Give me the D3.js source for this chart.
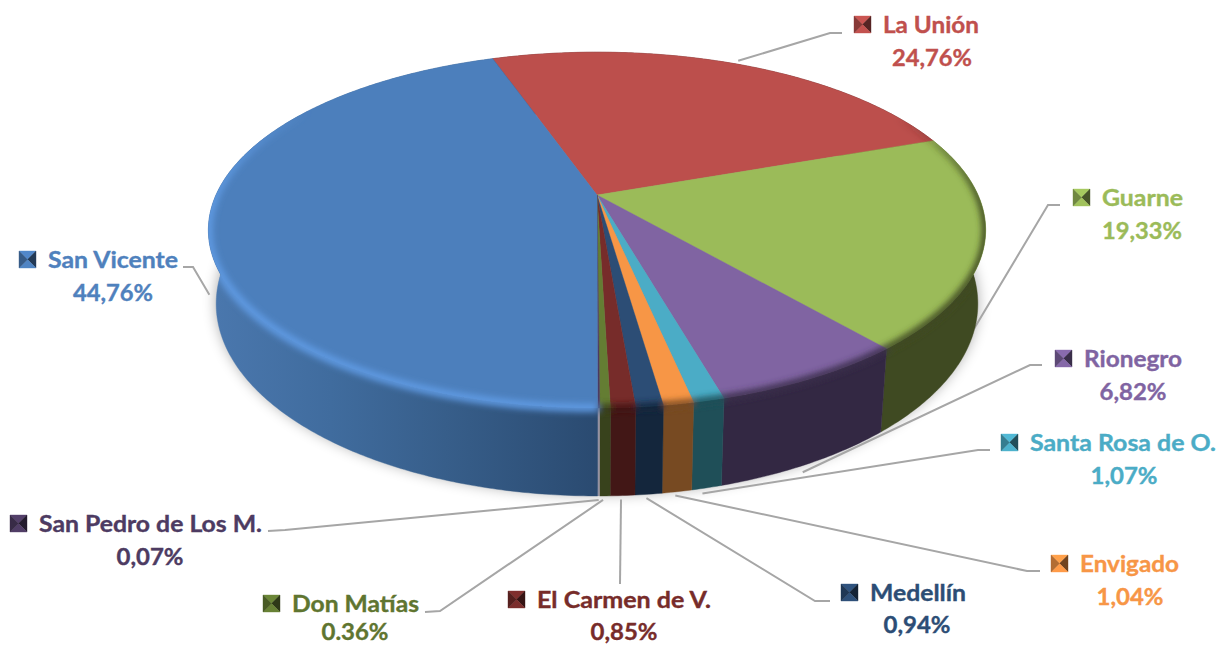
<!DOCTYPE html>
<html><head><meta charset="utf-8">
<script src="https://cdn.jsdelivr.net/npm/d3@7"></script>
<style>html,body{margin:0;padding:0;background:#fff}svg{display:block}text{font-family:Lato,Carlito,sans-serif;font-weight:700;stroke-width:0.35px}</style>
</head><body><div id="chart"></div>
<script>
const categories=["La Unión","Guarne","Rionegro","Santa Rosa de O.","Envigado","Medellín","El Carmen de V.","Don Matías","San Pedro de Los M.","San Vicente"];
const values=[24.76,19.33,6.82,1.07,1.04,0.94,0.85,0.36,0.07,44.76];
const valueLabels=["24,76%","19,33%","6,82%","1,07%","1,04%","0,94%","0,85%","0.36%","0,07%","44,76%"];
const topColors=["#bc4f4c","#9bbb59","#8064a2","#4bacc6","#f79646","#2c4d75","#772c2a","#647d33","#4d3b62","#4c7fbc"];
const textColors=["#c0504d","#9bbb59","#8064a2","#4bacc6","#f79646","#2c4d75","#772c2a","#5f7530","#4d3b62","#4f81bd"];
const sideColors=["#5e2725","#3f4a22","#332843","#1f4f58","#774a22","#14263c","#421716","#38421c","#9a95a5","url(#sv)"];
const rimColors=["#5e2725","#3f4a22","#3a2d4c","#1f4f58","#774a22","#14263c","#421716","#38421c","#4d3b62","#5f9ae2"];
// label layout: name left, name baseline, value centre, value baseline, widths
const nameX=[883,1102,1084,1030,1080,870,537,292,39,48];
const nameY=[33,206,367,451,572,601,608,612,532,268];
const valueX=[932,1142,1133,1124,1130,917,624,355,150,113];
const valueY=[66,239,400,484,605,633,640,640,565,301];
const nameW=[96,81,98,186,99,96,174,127,223,130];
const valueW=[80,80,67,67,67,67,67,67,67,80];
// leader elbows: [start x, start y, elbow x, elbow y] and end nudges
const elbows=[[842,33,830,33],[1060,205,1048,205],[1042,365,1030,365],[990,450,978,450],[1040,571,1027,571],[830,601,815,601],[620,584,620,584],[425,612,440,611],[268,531,285,530],[183,267,193,267]];
const endNudge=[[-1,0],[-7,12],[-9,6],[-6,2],[-3,0],[-3,0],[-2,0],[-2,0],[0,0],[-3,-3]];

const W=1220,H=645;
const svg=d3.select("#chart").append("svg").attr("width",W).attr("height",H);
const defs=svg.append("defs");
const blur=(id,s)=>defs.append("filter").attr("id",id).attr("x","-20%").attr("y","-20%").attr("width","140%").attr("height","140%").append("feGaussianBlur").attr("stdDeviation",s);
blur("shadow",7);blur("rim",3);
const g=defs.append("linearGradient").attr("id","sv").attr("gradientUnits","userSpaceOnUse").attr("x1",215).attr("x2",600).attr("y1",0).attr("y2",0);
[[0,"#4a77ad"],[0.3,"#406c9e"],[0.6,"#375e8a"],[1,"#2a4a70"]].forEach(s=>g.append("stop").attr("offset",s[0]).attr("stop-color",s[1]));

const cx=597,cy=195,B=381,A=171,k=0.197,sx=0.98,sy=1.08,depth=71;
const startDeg=-18.94;
const arcs=d3.pie().sort(null).value(d=>d).startAngle(startDeg*Math.PI/180).endAngle((startDeg+360)*Math.PI/180)(values);
const topP=a=>{const u=Math.sin(a),v=-Math.cos(a),w=1-k*v;return [cx+B*u/w,cy+A*v/w];};
const botP=a=>{const u=Math.sin(a),v=-Math.cos(a),w=1-k*v;return [cx+sx*B*u/w,cy+depth+sy*A*v/w];};
const samples=(a0,a1)=>d3.range(0,Math.max(2,Math.ceil((a1-a0)/0.01))+1).map((i,_,r)=>a0+(a1-a0)*i/(r.length-1));
const line=d3.line();

// soft shadow
const full=samples(0,2*Math.PI);
svg.append("path").attr("d",line(full.map(a=>{const p=botP(a);return [p[0],p[1]-2];}))+"Z").attr("fill","#000").attr("opacity",0.33).attr("filter","url(#shadow)");

// leaders sit behind the body
const leaderG=svg.append("g");
arcs.forEach((d,i)=>{
  const mid=(d.startAngle+d.endAngle)/2;
  const p=(i===0?topP:botP)(mid);
  const dx=p[0]-cx,dy=p[1]-(cy+depth);const l=Math.hypot(dx,dy);
  const end=[p[0]+dx/l*4+endNudge[i][0],p[1]+dy/l*4+endNudge[i][1]];
  const e=elbows[i];
  leaderG.append("path").attr("d",line([[e[0],e[1]],[e[2],e[3]],end])).attr("fill","none").attr("stroke","#a6a6a6").attr("stroke-width",2);
});

// side walls
const order=arcs.map((d,i)=>i);
const sidePath=i=>{const s=samples(arcs[i].startAngle,arcs[i].endAngle);return line(s.map(topP).concat(s.slice().reverse().map(botP)))+"Z";};
svg.append("g").selectAll("path").data(order).join("path")
 .attr("d",sidePath)
 .attr("fill",i=>sideColors[i]).attr("stroke",i=>i===8?"none":sideColors[i]).attr("stroke-width",0.4);

// top face
const clip=svg.append("clipPath").attr("id","bodyClip");
clip.append("path").attr("d",line(full.map(topP))+"Z");
order.forEach(i=>clip.append("path").attr("d",sidePath(i)));
const apex=[cx,cy];
svg.append("g").selectAll("path").data(order).join("path")
 .attr("d",i=>line([apex].concat(samples(arcs[i].startAngle,arcs[i].endAngle).map(topP)))+"Z")
 .attr("fill",i=>topColors[i]).attr("stroke",i=>topColors[i]).attr("stroke-width",0.4);

// bevel rim, allowed to bleed onto the wall but not the background
const rim=svg.append("g").attr("clip-path","url(#bodyClip)").append("g").attr("filter","url(#rim)");
arcs.forEach((d,i)=>{
  const s=samples(d.startAngle,d.endAngle);
  for(let j=0;j<s.length-1;j+=2){
    const a=s[j],b=s[Math.min(j+3,s.length-1)];
    const v=-Math.cos((a+b)/2);
    const o=i===9?Math.max(0,Math.min(1,(v+0.55)/0.6)):Math.max(0,Math.min(1,(v+0.5)/0.6));
    if(o<=0)continue;
    rim.append("path").attr("d",line([topP(a),topP(b)])).attr("fill","none").attr("stroke",rimColors[i]).attr("stroke-width",i===9?8:7).attr("stroke-opacity",o);
  }
});

// labels
const lab=svg.append("g");
arcs.forEach((d,i)=>{
  const c=textColors[i],x0=nameX[i]-29,y0=nameY[i]-17,sz=17;
  const col=d3.color(topColors[i]);
  const q=[x0,y0],r=[x0+sz,y0],t=[x0+sz,y0+sz],u=[x0,y0+sz],m=[x0+sz/2,y0+sz/2];
  [[q,r,col.brighter(0.2)],[r,t,col.darker(2.2)],[t,u,col.brighter(0.1)],[u,q,col.darker(0.9)]].forEach(f=>{
    lab.append("path").attr("d",line([f[0],f[1],m])+"Z").attr("fill",f[2]).attr("stroke",f[2]).attr("stroke-width",0.4);
  });
  lab.append("text").attr("x",nameX[i]).attr("y",nameY[i]).attr("fill",c).attr("stroke",c).attr("font-size",22).attr("textLength",nameW[i]).attr("lengthAdjust","spacingAndGlyphs").text(categories[i]);
  lab.append("text").attr("x",valueX[i]).attr("y",valueY[i]).attr("fill",c).attr("stroke",c).attr("font-size",22).attr("text-anchor","middle").attr("textLength",valueW[i]).attr("lengthAdjust","spacingAndGlyphs").text(valueLabels[i]);
});
</script></body></html>
